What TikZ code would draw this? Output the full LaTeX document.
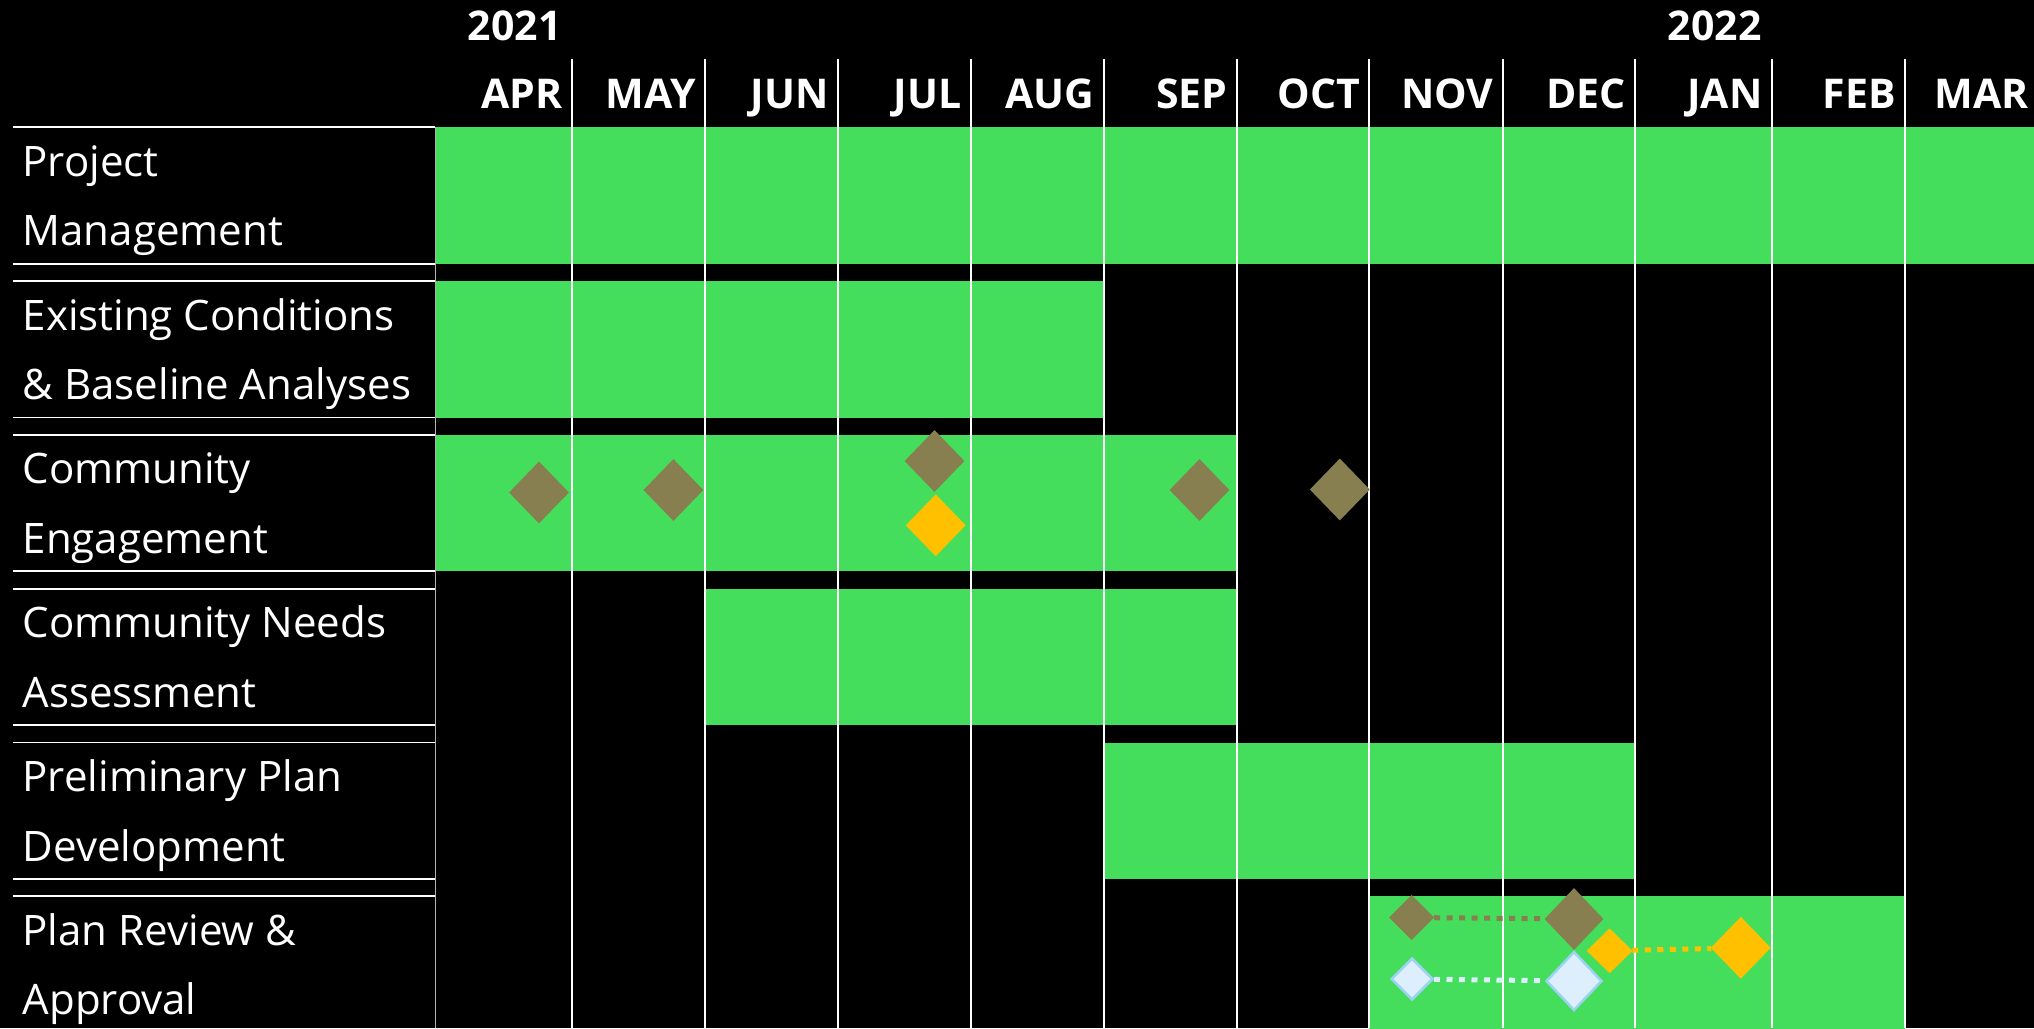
\documentclass[tikz,border=0pt]{standalone}
\usepackage{fontspec}
\setmainfont{Open Sans}
\usetikzlibrary{positioning, shapes.geometric}

\definecolor{barGreen}{HTML}{44DE5C}
\definecolor{mileOlive}{HTML}{877F50}
\definecolor{mileGold}{HTML}{FFC000}
\definecolor{mileIce}{HTML}{DDEFFC}
\definecolor{mileIceEdge}{HTML}{9CD3F2}

\begin{document}
\begin{tikzpicture}[x=1pt, y=-1pt, node distance=17.4pt,
  rowCell/.style={rectangle, minimum width=422.5pt, minimum height=136pt, inner sep=0pt},
  rowRule/.style={white, line width=1.8pt},
  rowText/.style={anchor=base west, align=left, inner sep=0pt, text=white, font=\fontsize{42}{69.5}\selectfont},
  monthLabel/.style={anchor=base east, inner sep=0pt, text=white, font=\bfseries\fontsize{41}{41}\selectfont},
  monthRule/.style={white, line width=2pt},
  milestone/.style={diamond, aspect=1, inner sep=0pt, minimum width=60pt, minimum height=62pt},
  smallMilestone/.style={milestone, minimum width=45pt, minimum height=45pt},
  linkLine/.style={line width=5pt, dash pattern=on 6pt off 6.5pt}]

\fill[black] (0,0) rectangle (2034,1028);
\useasboundingbox (0,0) rectangle (2034,1028);

\coordinate (yearBase) at (0,40);
\coordinate (monthBase) at (0,108.3);
\coordinate (pageBottom) at (0,1028);

\coordinate (aprEdge) at (571.7,59);
\coordinate (mayEdge) at (705,59);
\coordinate (junEdge) at (837.6,59);
\coordinate (julEdge) at (970.9,59);
\coordinate (augEdge) at (1103.5,59);
\coordinate (sepEdge) at (1236.7,59);
\coordinate (octEdge) at (1369.3,59);
\coordinate (novEdge) at (1502.5,59);
\coordinate (decEdge) at (1635,59);
\coordinate (janEdge) at (1771.6,59);
\coordinate (febEdge) at (1904.8,59);
\coordinate (marEdge) at (2038,59);

% task rows
\node[rowCell, anchor=north west] (pmCell) at (12.5,127.3) {};
\node[rowCell, below=of pmCell] (ecCell) {};
\node[rowCell, below=of ecCell] (ceCell) {};
\node[rowCell, below=of ceCell] (naCell) {};
\node[rowCell, below=of naCell] (ppCell) {};
\node[rowCell, below=of ppCell] (prCell) {};

% bars
\fill[barGreen] (pmCell.north east) rectangle (pmCell.south -| marEdge);
\fill[barGreen] (ecCell.north east) rectangle (ecCell.south -| augEdge);
\fill[barGreen] (ceCell.north east) rectangle (ceCell.south -| sepEdge);
\fill[barGreen] (naCell.north -| mayEdge) rectangle (naCell.south -| sepEdge);
\fill[barGreen] (ppCell.north -| augEdge) rectangle (ppCell.south -| decEdge);
\fill[barGreen] (prCell.north -| octEdge) rectangle (prCell.south -| febEdge);

\draw[gray!60, line width=1pt] (pmCell.north east) -- (pmCell.north east |- pageBottom);

% month grid
\draw[monthRule] (aprEdge) -- (aprEdge |- pageBottom);
\draw[monthRule] (mayEdge) -- (mayEdge |- pageBottom);
\draw[monthRule] (junEdge) -- (junEdge |- pageBottom);
\draw[monthRule] (julEdge) -- (julEdge |- pageBottom);
\draw[monthRule] (augEdge) -- (augEdge |- pageBottom);
\draw[monthRule] (sepEdge) -- (sepEdge |- pageBottom);
\draw[monthRule] (octEdge) -- (octEdge |- pageBottom);
\draw[monthRule] (novEdge) -- (novEdge |- pageBottom);
\draw[monthRule] (decEdge) -- (decEdge |- pageBottom);
\draw[monthRule] (janEdge) -- (janEdge |- pageBottom);
\draw[monthRule] (febEdge) -- (febEdge |- pageBottom);

\node[monthLabel] (year2021) at ([xshift=-10pt] aprEdge |- yearBase) {2021};
\node[monthLabel] (year2022) at ([xshift=-10pt] janEdge |- yearBase) {2022};

\node[monthLabel] (aprLabel) at ([xshift=-9pt] aprEdge |- monthBase) {APR};
\node[monthLabel] (mayLabel) at ([xshift=-9pt] mayEdge |- monthBase) {MAY};
\node[monthLabel] (junLabel) at ([xshift=-9pt] junEdge |- monthBase) {JUN};
\node[monthLabel] (julLabel) at ([xshift=-9pt] julEdge |- monthBase) {JUL};
\node[monthLabel] (augLabel) at ([xshift=-9pt] augEdge |- monthBase) {AUG};
\node[monthLabel] (sepLabel) at ([xshift=-9pt] sepEdge |- monthBase) {SEP};
\node[monthLabel] (octLabel) at ([xshift=-9pt] octEdge |- monthBase) {OCT};
\node[monthLabel] (novLabel) at ([xshift=-9pt] novEdge |- monthBase) {NOV};
\node[monthLabel] (decLabel) at ([xshift=-9pt] decEdge |- monthBase) {DEC};
\node[monthLabel] (janLabel) at ([xshift=-9pt] janEdge |- monthBase) {JAN};
\node[monthLabel] (febLabel) at ([xshift=-9pt] febEdge |- monthBase) {FEB};
\node[monthLabel] (marLabel) at ([xshift=-9pt] marEdge |- monthBase) {MAR};

% row labels
\draw[rowRule] (pmCell.north west) -- (pmCell.north east) (pmCell.south west) -- (pmCell.south east);
\draw[rowRule] (ecCell.north west) -- (ecCell.north east) (ecCell.south west) -- (ecCell.south east);
\draw[rowRule] (ceCell.north west) -- (ceCell.north east) (ceCell.south west) -- (ceCell.south east);
\draw[rowRule] (naCell.north west) -- (naCell.north east) (naCell.south west) -- (naCell.south east);
\draw[rowRule] (ppCell.north west) -- (ppCell.north east) (ppCell.south west) -- (ppCell.south east);
\draw[rowRule] (prCell.north west) -- (prCell.north east) (prCell.south west) -- (prCell.south east);

\node[rowText] (pmText) at ([xshift=10pt, yshift=-118.5pt] pmCell.north west) {Project\\Management};
\node[rowText] (ecText) at ([xshift=10pt, yshift=-118.5pt] ecCell.north west) {Existing Conditions\\\& Baseline Analyses};
\node[rowText] (ceText) at ([xshift=10pt, yshift=-118.5pt] ceCell.north west) {Community\\Engagement};
\node[rowText] (naText) at ([xshift=10pt, yshift=-118.5pt] naCell.north west) {Community Needs\\Assessment};
\node[rowText] (ppText) at ([xshift=10pt, yshift=-118.5pt] ppCell.north west) {Preliminary Plan\\Development};
\node[rowText] (prText) at ([xshift=10pt, yshift=-118.5pt] prCell.north west) {Plan Review \&\\Approval};

% milestones
\node[milestone, fill=mileOlive] (engageApr) at (539,492.5) {};
\node[milestone, fill=mileOlive] (engageMay) at (673.4,490) {};
\node[milestone, fill=mileOlive] (engageJul) at (934.5,461) {};
\node[milestone, fill=mileGold] (engageJulGold) at (935.7,525.3) {};
\node[milestone, fill=mileOlive] (engageSep) at (1199.5,490) {};
\node[milestone, fill=mileOlive] (engageOct) at (1339.8,489.5) {};

\node[smallMilestone, fill=mileOlive] (reviewNov) at (1411.6,917.5) {};
\node[milestone, fill=mileOlive, minimum width=59pt] (reviewDec) at (1574,919) {};
\node[smallMilestone, fill=mileGold, minimum width=46pt] (reviewDecGold) at (1609.6,950.8) {};
\node[milestone, fill=mileGold] (reviewJanGold) at (1740.8,947.8) {};
\node[smallMilestone, fill=mileIce, draw=mileIceEdge, line width=2.5pt, minimum width=42pt, minimum height=42pt] (reviewNovIce) at (1412,979) {};
\node[milestone, fill=mileIce, draw=mileIceEdge, line width=2.5pt, minimum width=56pt, minimum height=59pt] (reviewDecIce) at (1574,981) {};

\draw[linkLine, mileOlive] (reviewNov) -- (reviewDec);
\draw[linkLine, mileGold] (reviewDecGold) -- (reviewJanGold);
\draw[linkLine, mileIce] (reviewNovIce) -- (reviewDecIce);

\end{tikzpicture}
\end{document}
